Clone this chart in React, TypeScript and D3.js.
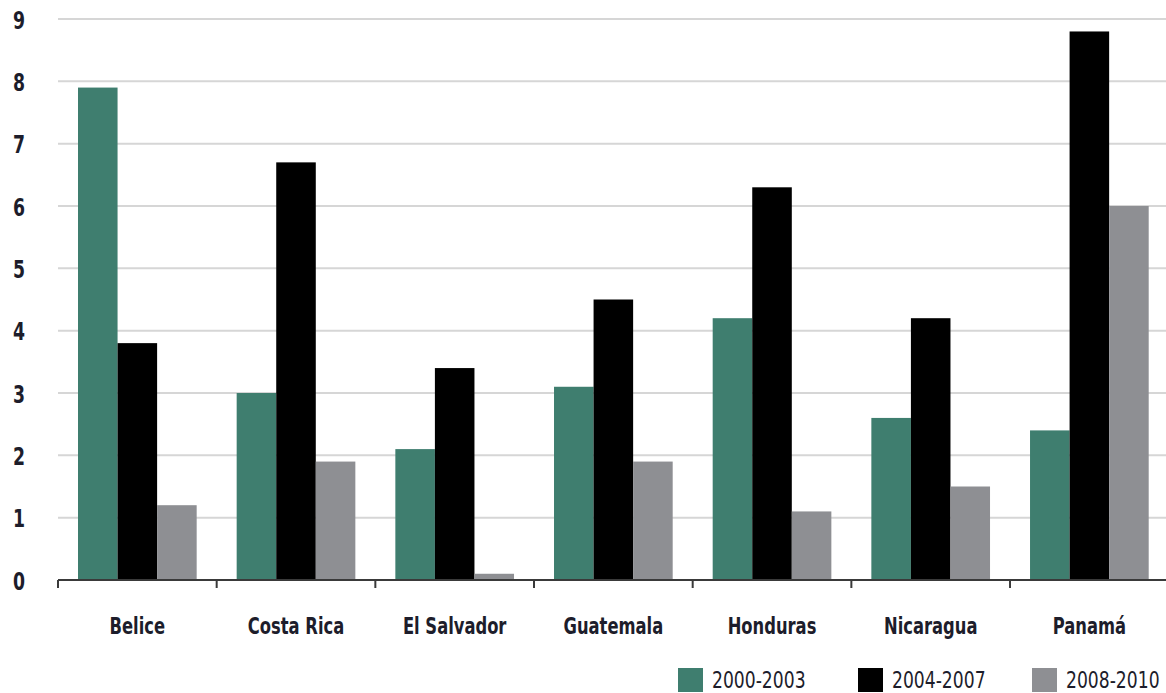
import React from "react";
import * as d3 from "d3";

const countries = ["Belice", "Costa Rica", "El Salvador", "Guatemala", "Honduras", "Nicaragua", "Panamá"];
const periods = ["2000-2003", "2004-2007", "2008-2010"];
const values2000_2003 = [7.9, 3.0, 2.1, 3.1, 4.2, 2.6, 2.4];
const values2004_2007 = [3.8, 6.7, 3.4, 4.5, 6.3, 4.2, 8.8];
const values2008_2010 = [1.2, 1.9, 0.1, 1.9, 1.1, 1.5, 6.0];
const yTicks = [0, 1, 2, 3, 4, 5, 6, 7, 8, 9];
const seriesColors = ["#3f7e6f", "#000000", "#8e8f93"];

const W = 1166;
const H = 693;
const FONT = "'DejaVu Sans Condensed', 'Liberation Sans Narrow', sans-serif";
const TEXT = "#1d1d2b";

// Horizontally squeezed text to mimic a condensed typeface
function CondText(props: {
  x: number;
  y: number;
  sx: number;
  anchor?: "start" | "middle" | "end";
  size: number;
  bold?: boolean;
  children: React.ReactNode;
}) {
  const { x, y, sx, anchor = "start", size, bold, children } = props;
  return (
    <g transform={`translate(${x},${y}) scale(${sx},1)`}>
      <text
        x={0}
        y={0}
        dy="0.36em"
        textAnchor={anchor}
        fontFamily={FONT}
        fontWeight={bold ? "bold" : "normal"}
        fontSize={size}
        fill={TEXT}
      >
        {children}
      </text>
    </g>
  );
}

export default function App() {
  const series = [values2000_2003, values2004_2007, values2008_2010];
  const x0 = d3.scaleBand<string>().domain(countries).range([58, 1168.7]).paddingInner(0).paddingOuter(0);
  const y = d3.scaleLinear().domain([0, 9]).range([580, 19]);
  const inner = 20;
  const x1 = d3
    .scaleBand<number>()
    .domain([0, 1, 2])
    .range([inner, x0.bandwidth() - inner])
    .padding(0);

  const legendX = [678, 858, 1032];
  const ticksX = countries.map((c) => x0(c) as number);

  return (
    <svg width={W} height={H} style={{ position: "absolute", left: 0, top: 0, background: "#fff" }}>
      <rect x={0} y={0} width={W} height={H} fill="#fff" />
      {yTicks.filter((t) => t > 0).map((t) => (
        <line key={t} x1={58} x2={W} y1={y(t)} y2={y(t)} stroke="#d6d6d6" strokeWidth={2} />
      ))}
      {yTicks.map((t) => (
        <CondText key={t} x={19} y={y(t) + 1} sx={0.8} anchor="middle" size={24} bold>
          {t}
        </CondText>
      ))}
      {countries.map((c, i) => (
        <g key={c} transform={`translate(${x0(c)},0)`}>
          {series.map((s, k) => (
            <rect
              key={k}
              x={x1(k)}
              y={y(s[i])}
              width={x1.bandwidth()}
              height={y(0) - y(s[i])}
              fill={seriesColors[k]}
            />
          ))}
          <CondText x={x0.bandwidth() / 2} y={626} sx={0.79} anchor="middle" size={23} bold>
            {c}
          </CondText>
        </g>
      ))}
      <line x1={58} x2={W} y1={580} y2={580} stroke="#3a3a3a" strokeWidth={2} />
      {ticksX.map((tx, i) => (
        <line key={i} x1={tx} x2={tx} y1={580} y2={588} stroke="#3a3a3a" strokeWidth={2} />
      ))}
      {periods.map((p, k) => (
        <g key={p}>
          <rect x={legendX[k]} y={668} width={25} height={24} fill={seriesColors[k]} />
          <CondText x={legendX[k] + 34} y={680} sx={0.83} size={23}>
            {p}
          </CondText>
        </g>
      ))}
    </svg>
  );
}
